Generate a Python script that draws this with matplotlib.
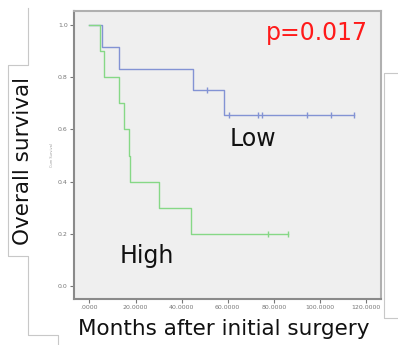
import matplotlib
matplotlib.use("Agg")
import matplotlib.pyplot as plt
from matplotlib.lines import Line2D

# Kaplan-Meier step values
low_time = [0, 5.3, 13.0, 44.8, 58.3, 115.0]
low_surv = [1.0, 0.917, 0.833, 0.750, 0.656, 0.656]
low_cens_time = [51.0, 60.4, 73.0, 74.8, 94.3, 105.0, 115.0]
low_cens_surv = [0.750, 0.656, 0.656, 0.656, 0.656, 0.656, 0.656]

high_time = [0, 4.6, 6.5, 13.0, 15.0, 17.0, 17.5, 30.0, 44.0, 86.0]
high_surv = [1.0, 0.9, 0.8, 0.7, 0.6, 0.5, 0.4, 0.3, 0.2, 0.2]
high_cens_time = [77.4, 86.0]
high_cens_surv = [0.2, 0.2]

x_ticks = [0, 20, 40, 60, 80, 100, 120]
x_tick_labels = [".0000", "20.0000", "40.0000", "60.0000", "80.0000", "100.0000", "120.0000"]
y_ticks = [0.0, 0.2, 0.4, 0.6, 0.8, 1.0]
y_tick_labels = ["0.0", "0.2", "0.4", "0.6", "0.8", "1.0"]

W, H = 398, 345
fig = plt.figure(figsize=(W / 100, H / 100), dpi=100)
ax = fig.add_axes([74 / W, 1 - 299 / H, (381 - 74) / W, (299 - 11) / H])
ax.set_facecolor("#efefef")

blue = "#8393d4"
green = "#86d886"

ax.step(low_time, low_surv, where="post", color=blue, lw=1.0)
ax.plot(low_cens_time, low_cens_surv, ls="none", marker="|", ms=4, mew=1.0, color=blue)
ax.step(high_time, high_surv, where="post", color=green, lw=1.0)
ax.plot(high_cens_time, high_cens_surv, ls="none", marker="|", ms=4, mew=1.0, color=green)

ax.set_xlim(-6.7, 126.5)
ax.set_ylim(-0.05, 1.054)
ax.set_xticks(x_ticks)
ax.set_xticklabels(x_tick_labels)
ax.set_yticks(y_ticks)
ax.set_yticklabels(y_tick_labels)
ax.tick_params(labelsize=4.5, labelcolor="#777777", color="#777777", length=3, width=0.8, pad=1.5)

for side in ["left", "bottom"]:
    ax.spines[side].set_color("#8a8a8a")
    ax.spines[side].set_linewidth(1.5)
for side in ["top", "right"]:
    ax.spines[side].set_color("#b0b0b0")
    ax.spines[side].set_linewidth(1.5)

ax.text(121, 0.943, "p=0.017", color="#ff1a1a", fontsize=17, ha="right", va="baseline")
ax.text(60.9, 0.536, "Low", color="#111111", fontsize=17, ha="left", va="baseline")
ax.text(13.0, 0.089, "High", color="#111111", fontsize=17, ha="left", va="baseline")

fig.text(78 / W, 1 - 335 / H, "Months after initial surgery", fontsize=15.5,
         color="#111111", ha="left", va="baseline")
fig.text(33 / W, 1 - 161 / H, "Overall survival", fontsize=15.5, rotation=90,
         color="#111111", ha="right", va="center")
fig.text(52 / W, 1 - 155 / H, "Cum Survival", fontsize=2.5, rotation=90,
         color="#999999", ha="center", va="center")

# leftover frame lines from the pasted panel
frame = [
    ([28, 28, 8, 8, 28, 28, 58, 58], [8, 65, 65, 256, 256, 335, 335, 345]),
    ([398, 384, 384, 398], [73, 73, 318, 318]),
]
for xs, ys in frame:
    fig.add_artist(Line2D([x / W for x in xs], [1 - y / H for y in ys],
                          transform=fig.transFigure, color="#c8c8c8", lw=0.8))

fig.savefig("out.png", dpi=100)
